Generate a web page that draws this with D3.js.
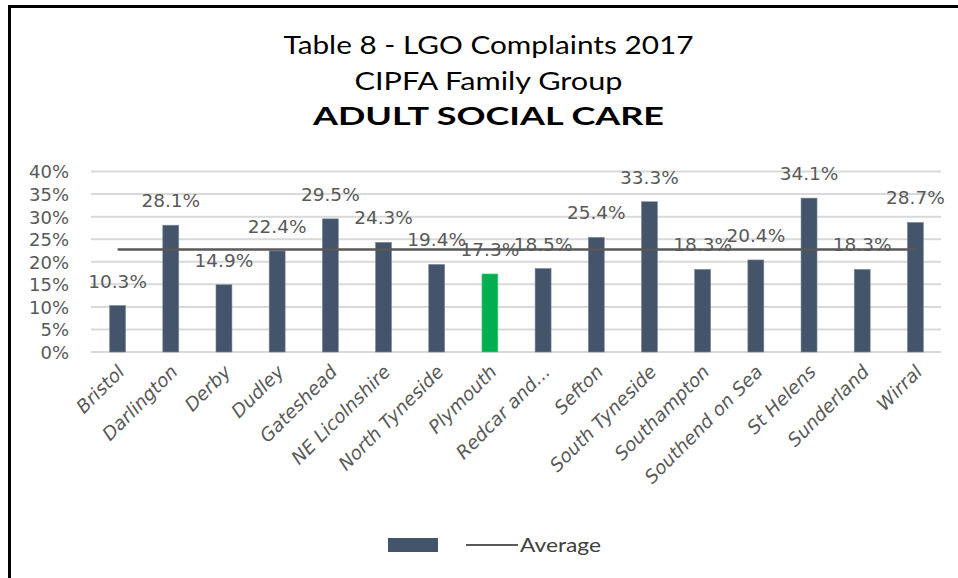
<!DOCTYPE html>
<html>
<head>
<meta charset="utf-8">
<script src="https://cdn.jsdelivr.net/npm/d3@7"></script>
<style>
  html, body { margin: 0; padding: 0; background: #fff; }
  svg { display: block; }
</style>
</head>
<body>
<svg id="chart" width="958" height="578"></svg>
<script>
// LGO complaints upheld, adult social care, CIPFA family group, 2017
const categories = ["Bristol", "Darlington", "Derby", "Dudley", "Gateshead", "NE Licolnshire",
  "North Tyneside", "Plymouth", "Redcar and...", "Sefton", "South Tyneside", "Southampton",
  "Southend on Sea", "St Helens", "Sunderland", "Wirral"];
const values = [10.3, 28.1, 14.9, 22.4, 29.5, 24.3, 19.4, 17.3, 18.5, 25.4, 33.3, 18.3, 20.4, 34.1, 18.3, 28.7];
const highlighted = ["Plymouth"];
const yTicks = [0, 5, 10, 15, 20, 25, 30, 35, 40];
const titleLines = ["Table 8 - LGO Complaints 2017", "CIPFA Family Group", "ADULT SOCIAL CARE"];
const legendLabel = "Average";

const average = d3.mean(values);

const svg = d3.select("#chart");
const W = 958, H = 578;

// outer frame (open at right and bottom)
svg.append("path")
  .attr("d", `M9.5,${H + 5}V6.5H${W + 5}`)
  .attr("fill", "none").attr("stroke", "#000").attr("stroke-width", 3);

// titles, stretched horizontally to their set widths
const titleFont = "Lato, 'Open Sans', sans-serif";
const titleSpec = [
  { y: 54, w: 410, size: 25.5, weight: "normal" },
  { y: 90, w: 268, size: 25.5, weight: "normal" },
  { y: 125, w: 351, size: 24.5, weight: "bold" }
];
titleLines.forEach((line, i) => {
  const s = titleSpec[i];
  svg.append("text").text(line)
    .attr("x", 488.5 - s.w / 2).attr("y", s.y)
    .attr("textLength", s.w).attr("lengthAdjust", "spacingAndGlyphs")
    .attr("font-family", titleFont).attr("font-weight", s.weight)
    .attr("font-size", s.size).attr("fill", "#000");
});

// scales
const x = d3.scaleBand().domain(categories).range([91, 942]).paddingInner(0.7).paddingOuter(0.35);
const y = d3.scaleLinear().domain([0, 40]).range([352, 171.5]);

const labelFont = "'DejaVu Sans', sans-serif";

// gridlines
svg.append("g").selectAll("line").data(yTicks).join("line")
  .attr("x1", 91).attr("x2", 941)
  .attr("y1", d => y(d)).attr("y2", d => y(d))
  .attr("stroke", "#d9d9d9").attr("stroke-width", 2);

// y axis
const yAxis = svg.append("g").attr("transform", "translate(69,0)")
  .call(d3.axisLeft(y).tickValues(yTicks).tickFormat(d => d + "%").tickSize(0).tickPadding(0));
yAxis.select(".domain").remove();
yAxis.selectAll("text")
  .attr("font-family", labelFont).attr("font-size", 18).attr("fill", "#595959")
  .attr("dy", "0.36em");

// bars
svg.append("g").selectAll("rect").data(categories).join("rect")
  .attr("x", d => x(d))
  .attr("width", x.bandwidth())
  .attr("y", (d, i) => y(values[i]))
  .attr("height", (d, i) => y(0) - y(values[i]))
  .attr("fill", d => highlighted.includes(d) ? "#00b050" : "#44546a")
  .attr("stroke", d => highlighted.includes(d) ? "#5fd08c" : "#7c889a")
  .attr("stroke-width", 0.6);

// average line across the category centres
const cx = d => x(d) + x.bandwidth() / 2;
svg.append("line")
  .attr("x1", cx(categories[0])).attr("x2", cx(categories[categories.length - 1]))
  .attr("y1", y(average)).attr("y2", y(average))
  .attr("stroke", "#595959").attr("stroke-width", 2.5);

// value labels
svg.append("g").selectAll("text").data(categories).join("text")
  .attr("x", d => cx(d))
  .attr("y", (d, i) => y(values[i]) - 18)
  .attr("text-anchor", "middle")
  .attr("font-family", labelFont).attr("font-size", 18.5).attr("fill", "#595959")
  .text((d, i) => values[i].toFixed(1) + "%");

// category labels, rotated
svg.append("g").selectAll("text").data(categories).join("text")
  .attr("transform", d => `translate(${cx(d) + 8},${373}) rotate(-45)`)
  .attr("text-anchor", "end")
  .attr("font-family", labelFont).attr("font-style", "italic")
  .attr("font-size", 18.5).attr("fill", "#595959")
  .text(d => d);

// legend
const lg = svg.append("g");
lg.append("rect").attr("x", 388).attr("y", 538).attr("width", 50).attr("height", 14).attr("fill", "#44546a");
lg.append("line").attr("x1", 466).attr("x2", 518).attr("y1", 545).attr("y2", 545)
  .attr("stroke", "#595959").attr("stroke-width", 2);
lg.append("text").attr("x", 520).attr("y", 552).text(legendLabel)
  .attr("textLength", 81).attr("lengthAdjust", "spacingAndGlyphs")
  .attr("font-family", "Lato, sans-serif").attr("font-size", 20).attr("fill", "#404040");
</script>
</body>
</html>
